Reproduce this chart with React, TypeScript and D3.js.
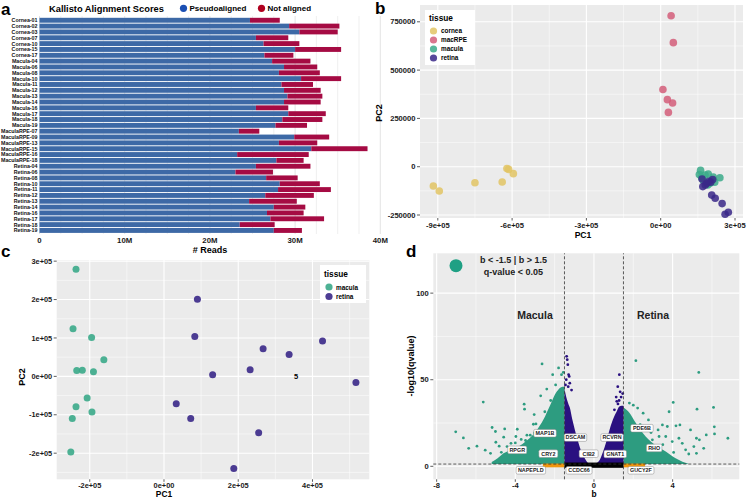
import React from 'react';
import * as d3 from 'd3';

const FONT = "'Liberation Sans', Arial, Helvetica, sans-serif";

// ---------- Panel a data ----------
const samples = [
  'Cornea-01','Cornea-02','Cornea-03','Cornea-07','Cornea-10','Cornea-15','Cornea-17',
  'Macula-04','Macula-06','Macula-08','Macula-10','Macula-11','Macula-12','Macula-13','Macula-14','Macula-16','Macula-17','Macula-18','Macula-19',
  'MaculaRPE-07','MaculaRPE-09','MaculaRPE-13','MaculaRPE-15','MaculaRPE-16','MaculaRPE-18',
  'Retina-04','Retina-06','Retina-08','Retina-10','Retina-11','Retina-12','Retina-13','Retina-14','Retina-16','Retina-17','Retina-18','Retina-19'
];
const pseudoalignedM = [
  24.7,29.3,30.5,25.4,26.3,30.0,26.4,
  27.3,28.7,28.1,30.7,28.4,28.7,29.1,28.7,25.4,29.2,28.5,27.7,
  23.4,29.9,28.1,31.9,23.2,27.8,
  25.4,23.0,26.6,28.2,28.0,26.5,24.6,27.5,26.7,27.1,23.5,27.5
];
const notAlignedM = [
  3.5,5.9,4.5,3.8,4.2,5.4,3.4,
  4.5,3.9,4.8,4.7,3.7,4.3,4.1,4.3,3.8,4.4,4.7,3.7,
  2.4,4.1,4.5,6.6,8.4,3.2,
  6.4,4.4,3.7,4.7,6.2,5.7,5.6,3.7,4.3,6.3,4.1,3.3
];
const readTicks = [0, 10, 20, 30, 40];
const readTickLabels = ['0', '10M', '20M', '30M', '40M'];

// ---------- Panel b data ----------
const corneaPC1 = [-918000,-894000,-750000,-640000,-621000,-614000,-595000];
const corneaPC2 = [-100000,-126000,-83000,-79000,-9000,-14000,-36000];
const macRPEPC1 = [42000,51000,9000,27000,48000,31000];
const macRPEPC2 = [781000,642000,400000,347000,330000,281000];
const maculaBPC1 = [161000,156000,192000,212000,239000,199000,172000,179000,218000,205000,165000,190000];
const maculaBPC2 = [-19000,-40000,-38000,-54000,-57000,-85000,-72000,-43000,-80000,-70000,-55000,-95000];
const retinaBPC1 = [167000,186000,170000,202000,210000,206000,220000,248000,260000,273000,180000,195000];
const retinaBPC2 = [-64000,-86000,-103000,-80000,-66000,-147000,-163000,-191000,-246000,-236000,-95000,-75000];
const bXTicks = [-900000,-600000,-300000,0,300000];
const bXTickLabels = ['-9e+05','-6e+05','-3e+05','0e+00','3e+05'];
const bYTicks = [-250000,0,250000,500000,750000];
const bYTickLabels = ['-250000','0','250000','500000','750000'];
const bTissues = ['cornea','macRPE','macula','retina'];

// ---------- Panel c data ----------
const maculaCPC1 = [-237000,-245000,-195000,-162000,-235000,-220000,-190000,-207000,-237000,-194000,-247000,-251000];
const maculaCPC2 = [279000,124000,101000,43000,15000,16000,12000,-56000,-79000,-93000,-110000,-197000];
const retinaCPC1 = [90000,83000,267000,427000,337000,232000,131000,517000,33000,72000,255000,188000];
const retinaCPC2 = [201000,104000,72000,92000,57000,17000,4000,-16000,-71000,-110000,-147000,-240000];
const cXTicks = [-200000,0,200000,400000];
const cXTickLabels = ['-2e+05','0e+00','2e+05','4e+05'];
const cYTicks = [-200000,-100000,0,100000,200000,300000];
const cYTickLabels = ['-2e+05','-1e+05','0e+00','1e+05','2e+05','3e+05'];
const cTissues = ['macula','retina'];

// ---------- Panel d data ----------
const navyEnvB = [-1.5,-1.45,-1.3,-1.23,-1.1,-0.97,-0.85,-0.72,-0.6,-0.47,-0.35,-0.22,-0.1,0.05,0.15,0.29,0.4,0.54,0.65,0.79,0.9,1.04,1.15,1.29,1.4,1.5];
const navyEnvQ = [45,42,36,34,27,21,16,11,7.5,4.6,2.5,1.3,0.9,1.0,2.0,3.7,6.5,11,15,21,25,29,31.5,34.5,35,35];
const tealLeftEnvB = [-5.2,-4.9,-4.6,-4.2,-3.9,-3.4,-2.9,-2.57,-2.24,-1.9,-1.6,-1.5];
const tealLeftEnvQ = [2.5,4.6,7.5,9.5,11,15,21,27,35,43,46,46];
const tealRightEnvB = [1.5,1.8,2.13,2.64,3.14,3.65,4.15,4.5,4.8];
const tealRightEnvQ = [34,31,25,17,12,8.5,4.6,2.7,1.5];
const tealPtsB = [-2.64,-1.80,-2.10,-1.65,-1.56,-2.40,-2.71,-5.63,-3.55,-3.53,-3.04,-3.08,-5.18,-5.01,-4.54,-3.90,-3.41,-7.03,-6.64,-6.37,-5.95,-5.53,-4.99,-4.82,-4.71,-4.59,-4.42,-4.22,-3.97,-3.48,-3.24,-3.03,-5.26,-4.25,-2.95,-2.5,-2.2,-1.95,-3.7,-4.0,
  2.13,5.33,4.03,3.82,1.80,2.00,2.22,2.50,2.77,3.26,3.48,3.73,4.17,4.37,4.91,6.12,6.13,6.81,5.24,6.08,5.21,5.36,5.71,5.08,5.21,4.49,4.66,4.82,5.58,4.32,3.98,3.65,3.31,2.97,2.35,2.9,3.5,4.05];
const tealPtsQ = [59.1,56.8,52.9,52.9,54.2,44.6,40.7,37.1,35.9,33.0,29.9,24.3,22.4,20.1,21.6,21.4,18.0,19.9,16.4,10.4,11.6,9.3,13.9,11.6,8.1,16.8,11.4,13.3,17.2,14.9,18.0,19.3,7.5,9.5,24.5,31.5,38,47,15.5,13.5,
  61.0,54.2,36.9,31.5,36.5,35.3,33.6,30.7,26.8,21.0,23.9,23.0,23.4,23.9,21.0,22.8,18.7,16.2,33.0,34.0,16.2,15.3,18.1,11.4,7.5,13.3,9.5,7.1,10.4,16.2,14.3,17.2,17.2,15.3,24,19.5,12.5,8];
const navyPtsB = [-1.39,-1.36,-1.33,-1.29,-1.26,-1.41,-1.23,-1.31,-1.14,-1.45,1.29,1.21,1.33,1.13,1.46,1.16,1.04,1.22,1.28,1.38];
const navyPtsQ = [63.5,61.6,58.7,52.9,51.9,50,48,46,44,47,52.9,46,43,40,42,37.5,32.6,36,38,40];
const orangeRangesB = [[-2.6,-1.5],[1.5,2.6]];
const blackRangeB = [-1.5, 1.5];
const geneNames = ['MAP1B','DSCAM','RCVRN','PDE6B','RPGR','CRY2','CIB2','GNAT1','RHO','NAPEPLD','CCDC66','GUCY2F'];
const geneB = [-2.49,-0.94,0.92,2.44,-3.9,-2.32,-0.27,1.08,3.06,-3.21,-0.76,2.39];
const geneQ = [19.1,16.6,16.6,22.0,9.5,7.3,7.3,7.1,10.6,-2.3,-2.3,-2.3];
const dXTicks = [-8,-4,0,4];
const dYTicks = [0,50,100];
const bCut = 1.5;
const qCut = -Math.log10(0.05);

// ---------- colors ----------
const C = {
  blueBar: '#3D69A6', redBar: '#A50B43', blueDot: '#1B4FB3', redDot: '#B0001F',
  cornea: '#E2C464', macRPE: '#D45E7A', macula: '#3BAA8A', retina: '#3A2888',
  teal: '#2D9C80', navy: '#2A1080', orange: '#F0960E', panel: '#EBEBEB'
};

function GgGrid({ xs, ys, xMajor, xMinor, yMajor, yMinor }: any) {
  const [x0, x1] = xs.range();
  const [y0, y1] = ys.range();
  return (
    <g>
      <rect x={x0} y={y1} width={x1 - x0} height={y0 - y1} fill={C.panel} />
      {xMinor.map((v: number, i: number) => <line key={'xm' + i} x1={xs(v)} x2={xs(v)} y1={y0} y2={y1} stroke="#fff" strokeWidth={0.5} />)}
      {yMinor.map((v: number, i: number) => <line key={'ym' + i} y1={ys(v)} y2={ys(v)} x1={x0} x2={x1} stroke="#fff" strokeWidth={0.5} />)}
      {xMajor.map((v: number, i: number) => <line key={'xM' + i} x1={xs(v)} x2={xs(v)} y1={y0} y2={y1} stroke="#fff" strokeWidth={1.1} />)}
      {yMajor.map((v: number, i: number) => <line key={'yM' + i} y1={ys(v)} y2={ys(v)} x1={x0} x2={x1} stroke="#fff" strokeWidth={1.1} />)}
    </g>
  );
}

function Axes({ xs, ys, xTicks, xLabels, yTicks, yLabels, fs, xOff }: any) {
  const [x0] = xs.range();
  const [y0] = ys.range();
  return (
    <g fontFamily={FONT} fontWeight="bold" fontSize={fs} fill="#1a1a1a">
      {xTicks.map((v: number, i: number) => (
        <g key={'xt' + i}>
          <line x1={xs(v)} x2={xs(v)} y1={y0} y2={y0 + 2.5} stroke="#333" strokeWidth={0.8} />
          <text x={xs(v)} y={y0 + xOff} textAnchor="middle">{xLabels[i]}</text>
        </g>
      ))}
      {yTicks.map((v: number, i: number) => (
        <g key={'yt' + i}>
          <line x1={x0 - 3} x2={x0} y1={ys(v)} y2={ys(v)} stroke="#333" strokeWidth={0.8} />
          <text x={x0 - 4.5} y={ys(v) + fs * 0.35} textAnchor="end">{yLabels[i]}</text>
        </g>
      ))}
    </g>
  );
}

export default function App() {
  // ---------- panel a ----------
  const ax = d3.scaleLinear().domain([0, 40]).range([39.5, 380.3]);
  const ay = d3.scaleBand<string>().domain(samples).range([17.8, 232.9]).paddingInner(0.16);
  const aGrid = d3.range(0, 40.01, 2.5);

  // ---------- panel b ----------
  const bx = d3.scaleLinear().domain([-971900, 332300]).range([420, 743]);
  const by = d3.scaleLinear().domain([-265500, 837000]).range([218, 5]);
  const bGroups = [
    { name: 'cornea', pc1: corneaPC1, pc2: corneaPC2, color: C.cornea },
    { name: 'macRPE', pc1: macRPEPC1, pc2: macRPEPC2, color: C.macRPE },
    { name: 'macula', pc1: maculaBPC1, pc2: maculaBPC2, color: C.macula },
    { name: 'retina', pc1: retinaBPC1, pc2: retinaBPC2, color: C.retina },
  ];

  // ---------- panel c ----------
  const cx = d3.scaleLinear().domain([-289000, 553000]).range([56.7, 369.3]);
  const cy = d3.scaleLinear().domain([-268000, 303000]).range([479.3, 260]);
  const cGroups = [
    { name: 'macula', pc1: maculaCPC1, pc2: maculaCPC2, color: C.macula },
    { name: 'retina', pc1: retinaCPC1, pc2: retinaCPC2, color: C.retina },
  ];

  // ---------- panel d ----------
  const dx = d3.scaleLinear().domain([-8.17, 7.39]).range([433.3, 739.3]);
  const dy = d3.scaleLinear().domain([-7.5, 123]).range([479.3, 253.3]);
  const env = (bs: number[], qs: number[]) =>
    d3.area<number>().x((_, i) => dx(bs[i])).y0(dy(qCut)).y1((_, i) => dy(Math.max(qs[i], qCut))).curve(d3.curveMonotoneX)(bs) || '';

  return (
    <svg width={748} height={498} style={{ position: 'absolute', left: 0, top: 0, background: '#fff' }} fontFamily={FONT}>
      {/* ================= Panel a ================= */}
      <text x={1} y={15} fontSize={17} fontWeight="bold">a</text>
      <text x={49} y={11.5} fontSize={9.3} fontWeight="bold">Kallisto Alignment Scores</text>
      <circle cx={183.5} cy={8.3} r={3.6} fill={C.blueDot} />
      <text x={189.5} y={11.3} fontSize={8} fontWeight="bold">Pseudoaligned</text>
      <circle cx={261.5} cy={8.3} r={3.6} fill={C.redDot} />
      <text x={267.5} y={11.3} fontSize={8} fontWeight="bold">Not aligned</text>
      {aGrid.map((v, i) => (
        <line key={'ag' + i} x1={ax(v)} x2={ax(v)} y1={16} y2={234} stroke={i % 4 === 0 ? '#DCDCDC' : '#EBEBEB'} strokeWidth={0.8} />
      ))}
      {samples.map((s, i) => (
        <g key={s}>
          <rect x={ax(0)} y={ay(s)} width={ax(pseudoalignedM[i]) - ax(0)} height={ay.bandwidth()} fill={C.blueBar} />
          <rect x={ax(pseudoalignedM[i])} y={ay(s)} width={ax(pseudoalignedM[i] + notAlignedM[i]) - ax(pseudoalignedM[i])} height={ay.bandwidth()} fill={C.redBar} />
          <text x={37.5} y={(ay(s) as number) + ay.bandwidth() / 2 + 1.9} fontSize={5.3} fontWeight="bold" textAnchor="end" fill="#111">{s}</text>
        </g>
      ))}
      {readTicks.map((v, i) => (
        <text key={'rt' + i} x={ax(v)} y={243} fontSize={7.8} fontWeight="bold" textAnchor="middle" fill="#1a1a1a">{readTickLabels[i]}</text>
      ))}
      <text x={ax(20)} y={252.5} fontSize={9} fontWeight="bold" textAnchor="middle">{'# Reads'}</text>

      {/* ================= Panel b ================= */}
      <GgGrid xs={bx} ys={by}
        xMajor={bXTicks} xMinor={[-750000,-450000,-150000,150000]}
        yMajor={bYTicks} yMinor={[-125000,125000,375000,625000]} />
      <Axes xs={bx} ys={by} xTicks={bXTicks} xLabels={bXTickLabels} yTicks={bYTicks} yLabels={bYTickLabels} fs={7.6} xOff={9.5} />
      {bGroups.map(g => g.pc1.map((v, i) => (
        <circle key={g.name + i} cx={bx(v)} cy={by(g.pc2[i])} r={3.8} fill={g.color} fillOpacity={0.85} />
      )))}
      <text x={375} y={14} fontSize={17} fontWeight="bold">b</text>
      <text x={583} y={237.5} fontSize={8.6} fontWeight="bold" textAnchor="middle">PC1</text>
      <text transform="translate(382,113) rotate(-90)" fontSize={9} fontWeight="bold" textAnchor="middle">PC2</text>
      <rect x={425} y={10} width={50} height={55} fill="#fff" />
      <text x={429} y={21} fontSize={8.3} fontWeight="bold">tissue</text>
      {bTissues.map((t, i) => (
        <g key={'bl' + t}>
          <circle cx={433.5} cy={31 + i * 9} r={3.6} fill={bGroups[i].color} fillOpacity={0.85} />
          <text x={441} y={33.3 + i * 9} fontSize={6.4} fontWeight="bold">{t}</text>
        </g>
      ))}

      {/* ================= Panel c ================= */}
      <text x={1} y={257} fontSize={17} fontWeight="bold">c</text>
      <GgGrid xs={cx} ys={cy}
        xMajor={cXTicks} xMinor={[-100000,100000,300000,500000]}
        yMajor={cYTicks} yMinor={[-250000,-150000,-50000,50000,150000,250000]} />
      <Axes xs={cx} ys={cy} xTicks={cXTicks} xLabels={cXTickLabels} yTicks={cYTicks} yLabels={cYTickLabels} fs={7.4} xOff={8.4} />
      {cGroups.map(g => g.pc1.map((v, i) => (
        <circle key={'c' + g.name + i} cx={cx(v)} cy={cy(g.pc2[i])} r={3.5} fill={g.color} fillOpacity={0.9} />
      )))}
      <text x={cx(356000)} y={cy(0) + 3} fontSize={7.5} fontWeight="bold" textAnchor="middle">5</text>
      <text x={164} y={497} fontSize={8.4} fontWeight="bold" textAnchor="middle">PC1</text>
      <text transform="translate(25,377) rotate(-90)" fontSize={9} fontWeight="bold" textAnchor="middle">PC2</text>
      <rect x={320} y={265} width={46} height={38} fill="#fff" />
      <text x={324} y={277} fontSize={8.3} fontWeight="bold">tissue</text>
      {cTissues.map((t, i) => (
        <g key={'cl' + t}>
          <circle cx={329} cy={287 + i * 9.5} r={3.6} fill={cGroups[i].color} fillOpacity={0.9} />
          <text x={336} y={289.5 + i * 9.5} fontSize={6.4} fontWeight="bold">{t}</text>
        </g>
      ))}

      {/* ================= Panel d ================= */}
      <text x={406} y={257} fontSize={17} fontWeight="bold">d</text>
      <GgGrid xs={dx} ys={dy}
        xMajor={dXTicks} xMinor={[-6,-2,2,6]}
        yMajor={dYTicks} yMinor={[25,75]} />
      <Axes xs={dx} ys={dy} xTicks={dXTicks} xLabels={dXTicks.map(String)} yTicks={dYTicks} yLabels={dYTicks.map(String)} fs={7.6} xOff={8.4} />
      <path d={env(tealLeftEnvB, tealLeftEnvQ)} fill={C.teal} />
      <path d={env(tealRightEnvB, tealRightEnvQ)} fill={C.teal} />
      <path d={env(navyEnvB, navyEnvQ)} fill={C.navy} />
      {tealPtsB.map((b, i) => <circle key={'tp' + i} cx={dx(b)} cy={dy(tealPtsQ[i])} r={1.4} fill={C.teal} />)}
      {navyPtsB.map((b, i) => <circle key={'np' + i} cx={dx(b)} cy={dy(navyPtsQ[i])} r={1.4} fill={C.navy} />)}
      {orangeRangesB.map((r, i) => (
        <rect key={'or' + i} x={dx(r[0])} y={dy(qCut) - 0.5} width={dx(r[1]) - dx(r[0])} height={dy(0) - dy(qCut) + 1.5} fill={C.orange} />
      ))}
      <rect x={dx(blackRangeB[0])} y={dy(qCut) - 1.5} width={dx(blackRangeB[1]) - dx(blackRangeB[0])} height={dy(0) - dy(qCut) + 3} fill="#000" />
      <line x1={dx(-bCut)} x2={dx(-bCut)} y1={dy(-7.5)} y2={dy(123)} stroke="#333" strokeWidth={0.8} strokeDasharray="3,2" />
      <line x1={dx(bCut)} x2={dx(bCut)} y1={dy(-7.5)} y2={dy(123)} stroke="#333" strokeWidth={0.8} strokeDasharray="3,2" />
      <line x1={dx(-8.17)} x2={dx(7.39)} y1={dy(qCut)} y2={dy(qCut)} stroke="#333" strokeWidth={0.8} strokeDasharray="3,2" />
      {geneNames.map((g, i) => {
        const w = g.length * 3.5 + 5;
        return (
          <g key={'gn' + g}>
            <rect x={dx(geneB[i]) - w / 2} y={dy(geneQ[i]) - 3.8} width={w} height={7.6} rx={1.5} fill="#fff" stroke="#888" strokeWidth={0.5} />
            <text x={dx(geneB[i])} y={dy(geneQ[i]) + 1.9} fontSize={5.4} fontWeight="bold" textAnchor="middle" fill="#222">{g}</text>
          </g>
        );
      })}
      <text x={535} y={319} fontSize={10.5} fontWeight="bold" textAnchor="middle" fill="#222">Macula</text>
      <text x={653} y={319} fontSize={10.5} fontWeight="bold" textAnchor="middle" fill="#222">Retina</text>
      <circle cx={456} cy={265.7} r={6.5} fill="#1FA084" />
      <text x={513.5} y={263} fontSize={9} fontWeight="bold" textAnchor="middle" fill="#222">{'b < -1.5 | b > 1.5'}</text>
      <text x={513.5} y={274.5} fontSize={9} fontWeight="bold" textAnchor="middle" fill="#222">{'q-value < 0.05'}</text>
      <text x={594} y={497} fontSize={8.4} fontWeight="bold" textAnchor="middle">b</text>
      <text transform="translate(414,366) rotate(-90)" fontSize={9} fontWeight="bold" textAnchor="middle">-log10(qvalue)</text>
    </svg>
  );
}
